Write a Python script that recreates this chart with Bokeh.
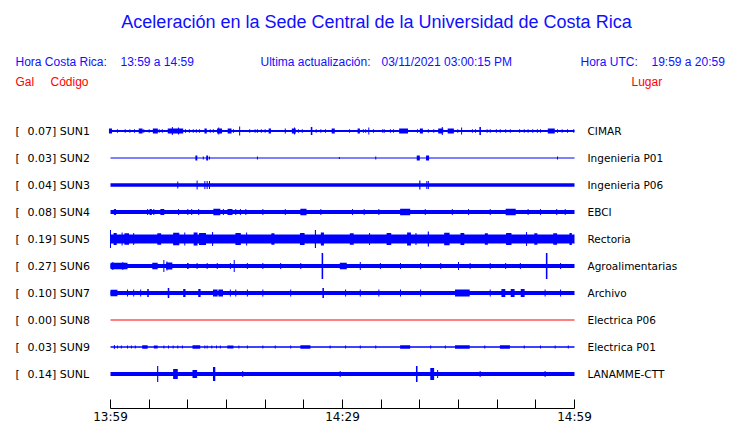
from bokeh.plotting import figure
from bokeh.models import Range1d, LinearAxis, FixedTicker, ColumnDataSource, LabelSet
from bokeh.core.properties import value
from bokeh.embed import file_html
from bokeh.resources import INLINE

# ---------------- data ----------------
TITLE = "Aceleración en la Sede Central de la Universidad de Costa Rica"
HORA_CR = "13:59 a 14:59"
HORA_UTC = "19:59 a 20:59"
ULTIMA = "03/11/2021 03:00:15 PM"

codes = ["SUN1", "SUN2", "SUN3", "SUN4", "SUN5", "SUN6", "SUN7", "SUN8", "SUN9", "SUNL"]
gal = [0.07, 0.03, 0.04, 0.08, 0.19, 0.27, 0.10, 0.00, 0.03, 0.14]
places = ["CIMAR", "Ingenieria P01", "Ingenieria P06", "EBCI", "Rectoria",
          "Agroalimentarias", "Archivo", "Electrica P06", "Electrica P01", "LANAMME-CTT"]
# background trace half-amplitude (trace units; 27 units between traces)
base_amp = [1.0, 0.5, 1.8, 1.9, 4.6, 1.9, 2.0, 0.5, 0.7, 1.9]
trace_colors = ["#0000ff"] * 7 + ["#ff0000"] + ["#0000ff"] * 2

# bursts: (minute after 13:59, half-amplitude, duration in minutes)
EV_SUN1 = [(0.0, 2.5, 0.4), (0.9, 1.8, 0.13), (1.9, 1.8, 0.13), (2.5, 1.8, 0.13), (3.1, 1.8, 0.13), (3.9, 2.5, 0.5),
           (4.3, 1.8, 0.13), (5.0, 1.8, 0.13), (5.8, 2.5, 0.65), (6.3, 1.8, 0.13), (6.7, 1.8, 0.13), (8.4, 2.5, 2.0),
           (8.0, 4, 0.13), (8.8, 3.5, 0.13), (9.7, 1.8, 0.13), (10.2, 1.8, 0.13), (10.7, 1.8, 0.13), (11.1, 1.8, 0.13),
           (11.5, 1.8, 0.13), (12.3, 2.5, 0.3), (12.9, 1.8, 0.13), (13.3, 1.8, 0.13), (14.1, 2.5, 0.65), (14.0, 3.5, 0.13),
           (15.4, 2.5, 0.5), (15.9, 1.8, 0.13), (16.7, 4.5, 0.13), (18.0, 1.8, 0.13), (18.7, 1.8, 0.13), (19.0, 1.8, 0.13),
           (19.5, 1.8, 0.13), (20.0, 1.8, 0.13), (20.6, 2.5, 0.3), (22.6, 2.5, 0.13), (23.7, 2.5, 0.5), (23.8, 3.5, 0.13),
           (24.3, 1.8, 0.13), (24.8, 1.8, 0.13), (26.0, 4, 0.2), (26.6, 1.8, 0.13), (27.2, 1.8, 0.13), (27.8, 1.8, 0.13),
           (28.8, 2.5, 0.4), (30.9, 1.8, 0.13), (32.1, 2.5, 0.3), (32.7, 1.8, 0.13), (33.0, 1.8, 0.13), (33.4, 3.5, 0.13),
           (34.0, 1.8, 0.13), (35.2, 1.8, 0.13), (35.4, 1.8, 0.13), (36.2, 1.8, 0.13), (36.6, 1.8, 0.13), (37.9, 2.5, 1.15),
           (39.7, 1.8, 0.13), (40.2, 2.5, 0.4), (41.1, 1.8, 0.13), (41.8, 1.8, 0.13), (42.7, 2.5, 0.65), (42.9, 4, 0.13),
           (44.0, 2.5, 0.8), (44.9, 1.8, 0.13), (45.4, 3.5, 0.13), (46.8, 1.8, 0.13), (47.2, 1.8, 0.13), (47.8, 4, 0.2),
           (48.7, 1.8, 0.13), (49.1, 1.8, 0.13), (49.9, 1.8, 0.13), (50.4, 1.8, 0.13), (51.1, 1.8, 0.13), (51.7, 1.8, 0.13),
           (52.9, 1.8, 0.13), (53.5, 1.8, 0.13), (54.0, 1.8, 0.13), (54.6, 1.8, 0.13), (55.2, 1.8, 0.13), (55.6, 1.8, 0.13),
           (57.0, 2.5, 0.9), (57.8, 1.8, 0.13), (58.4, 1.8, 0.13), (59.1, 1.8, 0.13), (59.9, 1.8, 0.13)]
EV_SUN2 = [(11.1, 2.5, 0.25), (12.0, 1.5, 0.13), (12.5, 2.5, 0.25), (12.8, 1.5, 0.13), (19.0, 1.5, 0.13),
           (29.6, 1, 0.13), (34.3, 1.5, 0.13), (39.8, 2.5, 0.4), (41.0, 2.5, 0.4), (57.8, 1.5, 0.13)]
EV_SUN3 = [(8.7, 3.5, 0.13), (11.2, 4.5, 0.13), (12.2, 4, 0.13), (12.5, 4, 0.13), (12.8, 4, 0.13),
           (40.0, 4.5, 0.15), (40.9, 4, 0.13), (41.1, 4, 0.13)]
EV_SUN4 = [(0.5, 3, 0.13), (0.65, 3, 0.13), (4.8, 3, 0.13), (5.2, 3, 0.3), (5.6, 3, 0.13), (6.7, 3, 0.5),
           (8.8, 3, 0.13), (10.0, 3, 0.13), (10.5, 3, 0.13), (11.4, 3, 0.13), (13.75, 3.2, 0.9), (14.6, 3, 0.13),
           (15.45, 3, 0.65), (16.2, 3, 0.13), (16.8, 3, 0.13), (17.5, 3, 0.13), (19.7, 3, 0.13), (22.6, 3, 0.13),
           (24.95, 3.2, 0.8), (27.2, 3, 0.13), (31.3, 3, 0.13), (32.8, 3, 0.13), (34.7, 3, 0.13), (38.1, 3.2, 1.3),
           (40.7, 3, 0.13), (44.2, 3, 0.13), (46.3, 3, 0.13), (49.1, 3, 0.13), (51.75, 3.2, 1.3), (54.0, 3, 0.13),
           (55.6, 3, 0.13), (57.7, 3, 0.13), (58.8, 3, 0.13)]
EV_SUN5 = [(0.0, 9, 0.13), (0.6, 6, 0.4), (1.5, 6.5, 0.13), (2.1, 5.8, 0.6), (3.0, 6, 0.13), (6.3, 5.8, 0.5),
           (8.5, 6.2, 0.8), (9.6, 6.5, 0.13), (11.0, 6.5, 0.5), (11.9, 6, 0.9), (13.2, 7, 0.13), (16.5, 6, 0.7),
           (17.6, 6.5, 0.13), (21.0, 5.8, 0.4), (24.8, 6, 0.6), (26.5, 9, 0.15), (27.4, 6.5, 0.4), (31.2, 5.8, 0.5),
           (33.5, 6, 0.13), (36.0, 6, 0.6), (38.6, 6.5, 0.5), (39.5, 6, 0.13), (41.1, 7.5, 0.15), (43.5, 6.2, 0.7),
           (45.5, 6, 0.5), (48.6, 5.8, 0.4), (51.5, 6, 0.7), (53.8, 7, 0.13), (55.0, 5.8, 0.4), (57.5, 5.8, 0.5),
           (59.5, 6, 0.3)]
EV_SUN6 = [(1.1, 3.2, 2.2), (0.3, 4, 0.13), (1.6, 4, 0.13), (5.75, 3.2, 0.7), (6.9, 6, 0.13), (7.6, 3.5, 0.8),
           (7.3, 4.5, 0.13), (10.0, 3, 0.2), (11.2, 3, 0.13), (12.5, 3, 0.13), (13.8, 3, 0.13), (15.5, 3, 0.13),
           (16.0, 6, 0.13), (17.7, 3, 0.13), (19.7, 3, 0.13), (22.0, 3, 0.13), (24.6, 3, 0.13), (27.4, 13, 0.2),
           (30.1, 3.2, 0.9), (32.3, 4, 0.13), (34.9, 3, 0.13), (37.5, 3, 0.13), (40.1, 3, 0.13), (42.7, 3, 0.13),
           (45.0, 4, 0.13), (46.5, 3, 0.13), (49.1, 3, 0.13), (51.1, 3, 0.13), (53.0, 3, 0.13), (56.4, 13, 0.2),
           (58.2, 3, 0.13)]
EV_SUN7 = [(0.45, 3.2, 0.9), (2.2, 3.5, 0.13), (3.0, 3.5, 0.13), (3.9, 3.5, 0.13), (4.85, 4, 0.2), (7.5, 5, 0.2),
           (9.55, 4, 0.3), (11.5, 4, 0.3), (13.55, 3.5, 0.6), (14.25, 3.5, 0.6), (15.5, 3.5, 0.13), (16.2, 3.5, 0.13),
           (17.7, 3.5, 0.13), (19.7, 3.5, 0.13), (23.3, 3.5, 0.13), (27.5, 5, 0.2), (30.4, 3.5, 0.13),
           (32.3, 3.5, 0.13), (34.7, 3.5, 0.13), (37.5, 3.5, 0.13), (40.1, 3.5, 0.13), (45.5, 3.5, 1.9),
           (49.1, 3.5, 0.13), (50.8, 4, 0.5), (52.0, 4, 0.5), (53.3, 4, 0.5), (56.2, 3.5, 0.13), (58.2, 3.5, 0.13)]
EV_SUN8 = []
EV_SUN9 = [(0.5, 2, 0.13), (0.9, 1.5, 0.13), (1.4, 1.5, 0.13), (2.2, 1.5, 0.13), (2.7, 1.5, 0.13), (3.2, 1.5, 0.13),
           (4.45, 1.8, 0.7), (5.85, 1.5, 0.5), (6.9, 1.5, 0.13), (7.5, 1.5, 0.13), (8.1, 1.5, 0.13), (8.7, 1.5, 0.13),
           (9.3, 1.5, 0.13), (11.1, 1.8, 1.0), (12.2, 1.5, 0.13), (12.5, 1.5, 0.13), (13.1, 1.5, 0.13),
           (13.7, 1.5, 0.13), (14.2, 1.5, 0.13), (15.5, 1.5, 0.8), (16.6, 1.5, 0.13), (17.7, 1.5, 0.13),
           (19.7, 1.5, 0.13), (21.3, 1.5, 0.13), (23.3, 1.5, 0.13), (25.2, 1.8, 1.3), (28.4, 1.5, 0.13),
           (30.4, 1.5, 0.13), (32.3, 1.5, 0.13), (34.3, 1.5, 0.13), (38.1, 1.8, 1.3), (41.4, 1.5, 0.13),
           (43.3, 1.5, 0.13), (45.5, 1.8, 1.9), (48.4, 1.5, 0.13), (51.0, 1.8, 1.3), (53.5, 1.5, 0.13),
           (55.6, 1.5, 0.13), (57.5, 1.5, 0.13), (59.2, 1.5, 0.13)]
EV_SUNL = [(6.1, 8, 0.15), (8.4, 5, 0.6), (10.9, 4, 0.6), (13.4, 7, 0.3), (17.1, 3, 0.13), (29.7, 3, 0.13),
           (39.6, 8, 0.2), (41.6, 6, 0.5), (42.3, 4, 0.13), (47.8, 3, 0.13), (56.2, 3, 0.13)]
events = [EV_SUN1, EV_SUN2, EV_SUN3, EV_SUN4, EV_SUN5, EV_SUN6, EV_SUN7, EV_SUN8, EV_SUN9, EV_SUNL]

T_START, T_END = 0, 60          # minutes after 13:59
tick_minutes = list(range(0, 61, 5))
big_ticks = [0, 30, 60]
big_labels = ["13:59", "14:29", "14:59"]
small_ticks = [10, 20, 40, 50]
small_labels = ["14:09", "14:19", "14:39", "14:49"]

# ---------------- layout ----------------
FRAME_W, FRAME_H, AXIS_H = 740, 408, 15
PX_PER_MIN = 464 / 60.0
X0_PX = 110.0          # minute 0 from frame left
ROW_PX = 27.0          # spacing between traces
ROW0_PY = 130.5        # first trace from frame top
UNITS_PER_ROW = 27.0   # amplitude units per trace spacing


def px(xp):   # canvas x -> data x
    return (xp - X0_PX) / PX_PER_MIN


def py(yp):   # canvas y -> data y
    return (yp - ROW0_PY) / ROW_PX


p = figure(frame_width=FRAME_W, frame_height=FRAME_H,
           x_range=Range1d(px(0), px(FRAME_W)),
           y_range=Range1d(py(FRAME_H), py(0)),
           x_axis_location=None, y_axis_location=None,
           output_backend="svg", toolbar_location=None,
           min_border=0, min_border_bottom=AXIS_H)
p.outline_line_color = None
p.grid.grid_line_color = None
p.background_fill_color = "white"
p.border_fill_color = "white"

rows = list(range(len(codes)))

# traces
for r, amp, col, evs in zip(rows, base_amp, trace_colors, events):
    h = amp / UNITS_PER_ROW
    p.quad(left=[T_START], right=[T_END], bottom=[r - h], top=[r + h],
           fill_color=col, line_color=None)
    if evs:
        src = ColumnDataSource(dict(
            left=[t - w / 2 for t, a, w in evs],
            right=[t + w / 2 for t, a, w in evs],
            bottom=[r - a / UNITS_PER_ROW for t, a, w in evs],
            top=[r + a / UNITS_PER_ROW for t, a, w in evs]))
        p.quad(left="left", right="right", bottom="bottom", top="top", source=src,
               fill_color=col, line_color=None)

# row labels
p.text(x=[px(15)] * len(rows), y=rows, text=["["] * len(rows),
       text_font=value("DejaVu Sans"), text_font_size="11px", text_color="black",
       text_baseline="middle", text_align="left")
p.text(x=[px(27)] * len(rows), y=rows, text=[f"{g:.2f}] {c}" for g, c in zip(gal, codes)],
       text_font=value("DejaVu Sans"), text_font_size="11px", text_color="black",
       text_baseline="middle", text_align="left")
p.text(x=[px(587)] * len(rows), y=rows, text=places,
       text_font=value("DejaVu Sans"), text_font_size="10.5px", text_color="black",
       text_baseline="middle", text_align="left")

# title and header
p.text(x=[px(376)], y=[py(21.5)], text=[TITLE], text_font=value("Liberation Sans"),
       text_font_size="18px", text_color="#1010ff", text_align="center", text_baseline="middle")
hdr_x = [px(15), px(120), px(260), px(381), px(580), px(651)]
hdr_t = ["Hora Costa Rica:", HORA_CR, "Ultima actualización:", ULTIMA, "Hora UTC:", HORA_UTC]
p.text(x=hdr_x, y=[py(61)] * len(hdr_x), text=hdr_t, text_font=value("Liberation Sans"),
       text_font_size="12px", text_color="#1010ff", text_align="left", text_baseline="middle")
p.text(x=[px(15), px(50), px(631)], y=[py(81)] * 3, text=["Gal", "Código", "Lugar"],
       text_font=value("Liberation Sans"), text_font_size="12px", text_color="#ff0000",
       text_align="left", text_baseline="middle")

# time axis
overrides = {t: "" for t in tick_minutes}
for t, lab in zip(big_ticks, big_labels):
    overrides[t] = lab
ax = LinearAxis(ticker=FixedTicker(ticks=tick_minutes), major_label_overrides=overrides,
                bounds=(T_START, T_END))
ax.major_tick_in = 9
ax.major_tick_out = 0
ax.minor_tick_in = 0
ax.minor_tick_out = 0
ax.major_label_standoff = 1
ax.major_label_text_font = "DejaVu Sans"
ax.major_label_text_font_size = "12px"
ax.major_label_text_color = "black"
ax.axis_line_color = "black"
ax.major_tick_line_color = "black"
p.add_layout(ax, "below")

small_src = ColumnDataSource(dict(x=small_ticks, y=[py(416)] * len(small_ticks), text=small_labels))
p.add_layout(LabelSet(x="x", y="y", text="text", source=small_src, text_align="center",
                      text_baseline="middle", text_font=value("DejaVu Sans"), text_font_size="8px",
                      text_color="black"))

open("out.html", "w").write(file_html(p, INLINE))
